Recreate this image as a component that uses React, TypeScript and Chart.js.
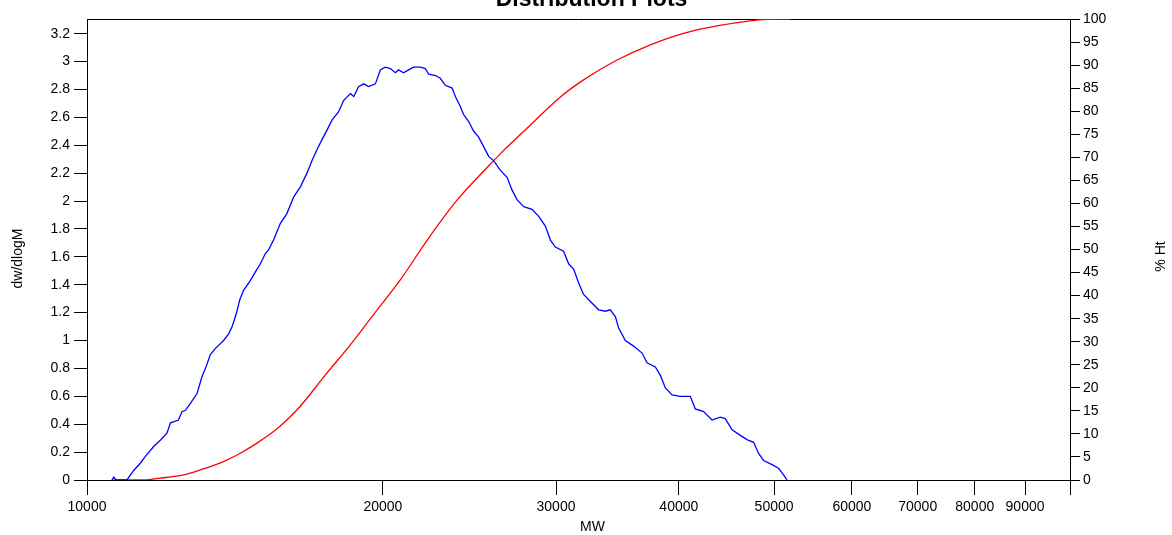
import React, { useEffect, useRef } from 'react';
import { Chart, registerables } from 'chart.js';

Chart.register(...registerables);

// dw/dlogM curve (blue)
const blueMW = [10600, 10650, 10700, 10980, 11160, 11330, 11460, 11690, 11880, 12060, 12160, 12390, 12490, 12590, 12740, 12940, 13090, 13230, 13350, 13510, 13770, 13940, 14050, 14190, 14300, 14430, 14660, 14830, 15010, 15190, 15300, 15480, 15730, 15970, 16230, 16480, 16740, 16940, 17140, 17340, 17550, 17750, 18030, 18240, 18530, 18680, 18890, 19120, 19340, 19650, 19880, 20110, 20350, 20590, 20750, 20990, 21240, 21490, 21830, 22090, 22260, 22620, 22880, 23150, 23520, 23700, 23970, 24160, 24450, 24740, 25020, 25320, 25620, 25920, 26340, 26750, 27060, 27380, 27810, 28360, 28810, 29260, 29610, 29950, 30540, 30900, 31270, 31640, 32000, 32520, 33150, 33680, 34070, 34480, 34740, 35290, 35980, 36700, 37130, 37860, 38310, 38760, 39370, 40140, 41090, 41570, 42390, 43230, 44080, 44600, 45310, 46200, 46920, 47660, 48220, 48780, 49760, 50530, 51120, 51540];
const blueDw = [0, 0.02, 0, 0, 0.07, 0.12, 0.167, 0.24, 0.287, 0.335, 0.41, 0.43, 0.49, 0.5, 0.55, 0.62, 0.74, 0.82, 0.9, 0.944, 1.0, 1.05, 1.1, 1.195, 1.29, 1.36, 1.43, 1.49, 1.55, 1.625, 1.65, 1.72, 1.84, 1.91, 2.03, 2.10, 2.20, 2.29, 2.37, 2.44, 2.51, 2.58, 2.64, 2.72, 2.77, 2.75, 2.82, 2.84, 2.82, 2.84, 2.94, 2.96, 2.95, 2.92, 2.94, 2.92, 2.94, 2.96, 2.96, 2.95, 2.91, 2.90, 2.88, 2.83, 2.81, 2.75, 2.68, 2.62, 2.57, 2.50, 2.46, 2.39, 2.32, 2.29, 2.22, 2.17, 2.08, 2.01, 1.96, 1.94, 1.89, 1.82, 1.72, 1.67, 1.64, 1.55, 1.51, 1.41, 1.33, 1.28, 1.22, 1.21, 1.22, 1.17, 1.09, 1.00, 0.96, 0.91, 0.84, 0.81, 0.75, 0.66, 0.61, 0.60, 0.60, 0.51, 0.49, 0.43, 0.45, 0.44, 0.36, 0.32, 0.29, 0.27, 0.19, 0.14, 0.11, 0.084, 0.036, 0];

// cumulative % Ht curve (red)
const redMW = [10640, 11420, 11830, 12540, 13040, 13770, 14320, 14890, 15480, 15970, 16480, 17480, 18530, 19650, 20830, 22180, 23790, 25530, 26340, 28030, 30310, 32000, 34610, 37420, 40450, 43740, 47290, 49170, 51940];
const redHt = [0, 0, 0.37, 1.1, 2.2, 4.0, 5.8, 8.0, 10.5, 13.0, 16.0, 22.8, 29.3, 36.4, 43.4, 52, 60.7, 67.8, 70.8, 76.3, 83.1, 86.8, 91.1, 94.4, 96.9, 98.5, 99.6, 99.9, 100];

const xTickValues = [10000, 20000, 30000, 40000, 50000, 60000, 70000, 80000, 90000, 100000];
const xTickLabels = ['10000', '20000', '30000', '40000', '50000', '60000', '70000', '80000', '90000', ''];
const leftTickValues = [0, 0.2, 0.4, 0.6, 0.8, 1, 1.2, 1.4, 1.6, 1.8, 2, 2.2, 2.4, 2.6, 2.8, 3, 3.2];
const leftTickLabels = ['0', '0.2', '0.4', '0.6', '0.8', '1', '1.2', '1.4', '1.6', '1.8', '2', '2.2', '2.4', '2.6', '2.8', '3', '3.2'];
const rightTickValues = [0, 5, 10, 15, 20, 25, 30, 35, 40, 45, 50, 55, 60, 65, 70, 75, 80, 85, 90, 95, 100];

const chartTitle = 'Distribution Plots';
const xTitle = 'MW';
const yLeftTitle = 'dw/dlogM';
const yRightTitle = '% Ht';

const FAMILY = '"Liberation Sans", Arial, sans-serif';

export default function App() {
  const ref = useRef<HTMLCanvasElement>(null);

  useEffect(() => {
    const canvas = ref.current;
    if (!canvas) return;

    const framePlugin = {
      id: 'topFrame',
      beforeDatasetsDraw(chart: any) {
        const { ctx, chartArea } = chart;
        ctx.save();
        ctx.strokeStyle = '#000';
        ctx.lineWidth = 1;
        ctx.beginPath();
        const y = Math.round(chartArea.top) + 0.5;
        ctx.moveTo(chartArea.left, y);
        ctx.lineTo(chartArea.right, y);
        ctx.stroke();
        ctx.restore();
      },
    };

    const textPlugin = {
      id: 'texts',
      afterDraw(chart: any) {
        const { ctx, chartArea } = chart;
        ctx.save();
        ctx.fillStyle = '#000';
        ctx.font = `bold 23px ${FAMILY}`;
        ctx.textAlign = 'center';
        ctx.textBaseline = 'alphabetic';
        ctx.fillText(chartTitle, 591.5, 5.5);

        ctx.font = `14px ${FAMILY}`;
        ctx.textBaseline = 'middle';
        ctx.fillText(xTitle, 592.5, 527.5);

        const midY = (chartArea.top + chartArea.bottom) / 2;
        ctx.save();
        ctx.translate(18, midY + 9);
        ctx.rotate(-Math.PI / 2);
        ctx.fillText(yLeftTitle, 0, 0);
        ctx.restore();

        ctx.save();
        ctx.translate(1161, midY + 7);
        ctx.rotate(-Math.PI / 2);
        ctx.fillText(yRightTitle, 0, 0);
        ctx.restore();
        ctx.restore();
      },
    };

    const tickFont = { family: FAMILY, size: 14 };

    const chart = new Chart(canvas, {
      type: 'line',
      data: {
        datasets: [
          {
            label: 'dw/dlogM',
            data: blueMW.map((x, i) => ({ x, y: blueDw[i] })),
            yAxisID: 'y',
            borderColor: '#0000ff',
            borderWidth: 1.3,
            pointRadius: 0,
            tension: 0,
            fill: false,
          },
          {
            label: '% Ht',
            data: redMW.map((x, i) => ({ x, y: redHt[i] })),
            yAxisID: 'y2',
            borderColor: '#ff0000',
            borderWidth: 1.3,
            pointRadius: 0,
            cubicInterpolationMode: 'monotone',
            fill: false,
          },
        ],
      },
      options: {
        responsive: false,
        animation: false,
        devicePixelRatio: 1,
        layout: { padding: { top: 19, left: 0, right: 0, bottom: 0 } },
        plugins: {
          legend: { display: false },
          tooltip: { enabled: false },
          title: { display: false },
        },
        scales: {
          x: {
            type: 'logarithmic',
            position: 'bottom',
            min: 10000,
            max: 100000,
            afterBuildTicks: (s: any) => {
              s.ticks = xTickValues.map((v) => ({ value: v }));
            },
            afterFit: (s: any) => {
              s.height = 55;
            },
            ticks: {
              autoSkip: false,
              maxRotation: 0,
              minRotation: 0,
              padding: 4,
              color: '#000',
              font: tickFont,
              callback: (_v: any, i: number) => xTickLabels[i],
            },
            grid: { drawOnChartArea: false, drawTicks: true, tickLength: 15, color: '#000', lineWidth: 1 },
            border: { display: true, color: '#000', width: 1 },
          },
          y: {
            type: 'linear',
            position: 'left',
            min: 0,
            max: 3.305,
            afterBuildTicks: (s: any) => {
              s.ticks = leftTickValues.map((v) => ({ value: v }));
            },
            afterFit: (s: any) => {
              s.width = 87;
            },
            ticks: {
              autoSkip: false,
              padding: 4,
              color: '#000',
              font: tickFont,
              callback: (_v: any, i: number) => leftTickLabels[i],
            },
            grid: { drawOnChartArea: false, drawTicks: true, tickLength: 13, color: '#000', lineWidth: 1 },
            border: { display: true, color: '#000', width: 1 },
          },
          y2: {
            type: 'linear',
            position: 'right',
            min: 0,
            max: 100,
            afterBuildTicks: (s: any) => {
              s.ticks = rightTickValues.map((v) => ({ value: v }));
            },
            afterFit: (s: any) => {
              s.width = 102;
            },
            ticks: {
              autoSkip: false,
              padding: 3,
              color: '#000',
              font: tickFont,
              callback: (v: any) => String(v),
            },
            grid: { drawOnChartArea: false, drawTicks: true, tickLength: 10, color: '#000', lineWidth: 1 },
            border: { display: true, color: '#000', width: 1 },
          },
        },
      },
      plugins: [framePlugin, textPlugin],
    } as any);

    return () => chart.destroy();
  }, []);

  return (
    <div style={{ position: 'absolute', left: 0, top: 0, width: 1172, height: 535, overflow: 'hidden', background: '#fff' }}>
      <canvas ref={ref} width={1172} height={535} style={{ display: 'block' }} />
    </div>
  );
}
